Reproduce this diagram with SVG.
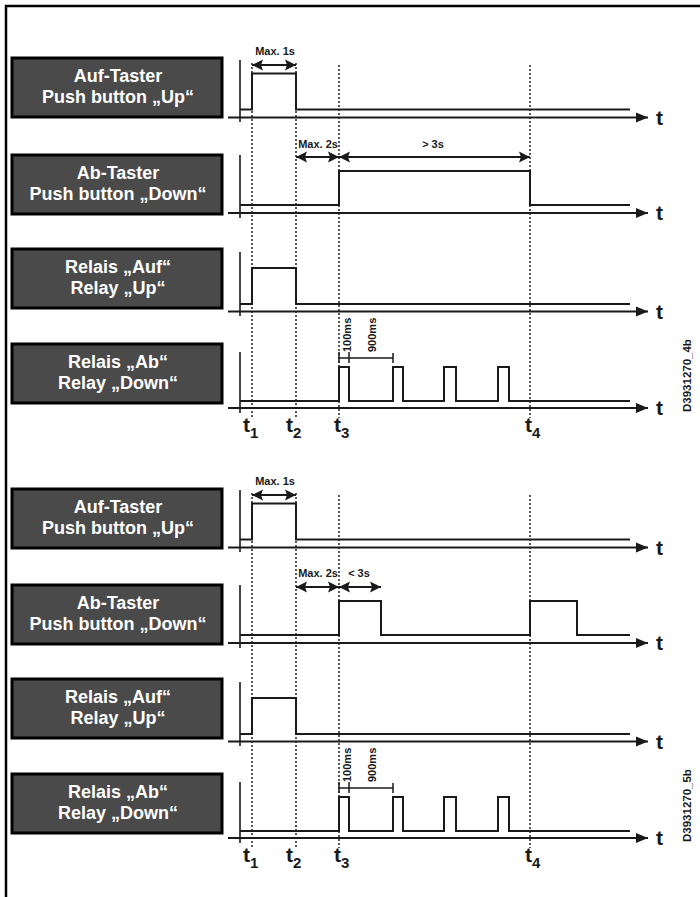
<svg xmlns="http://www.w3.org/2000/svg" width="700" height="897" viewBox="0 0 700 897">
<style>
.box{fill:#4a4a4a;stroke:#000;stroke-width:3}
.bt{font-family:"Liberation Sans",Arial,sans-serif;font-weight:bold;font-size:18px;fill:#fff;text-anchor:middle}
.sm{font-family:"Liberation Sans",Arial,sans-serif;font-weight:bold;font-size:11px;fill:#1a1a1a}
.tt{font-family:"Liberation Sans",Arial,sans-serif;font-weight:bold;font-size:21px;fill:#1a1a1a}
.ts{font-family:"Liberation Sans",Arial,sans-serif;font-weight:bold;font-size:15px;fill:#1a1a1a}
.ax{fill:none;stroke:#1a1a1a;stroke-width:2}
.va{fill:none;stroke:#1a1a1a;stroke-width:1.6}
.sig{fill:none;stroke:#1a1a1a;stroke-width:2}
.dot{fill:none;stroke:#222;stroke-width:1.5;stroke-dasharray:2,2}
.dim{fill:none;stroke:#1a1a1a;stroke-width:2}
.br{fill:none;stroke:#1a1a1a;stroke-width:1.5}
</style>
<defs>
<marker id="ah" markerUnits="userSpaceOnUse" markerWidth="14" markerHeight="12" refX="12" refY="5" orient="auto-start-reverse" viewBox="0 0 14 10">
<path d="M0,0 L12,5 L0,10 z" fill="#1a1a1a"/>
</marker>
<marker id="dh" markerUnits="userSpaceOnUse" markerWidth="12" markerHeight="12" refX="11" refY="5.5" orient="auto-start-reverse" viewBox="0 0 12 11">
<path d="M0,0 L11,5.5 L0,11 L2,5.5 z" fill="#1a1a1a"/>
</marker>
</defs>
<rect width="700" height="897" fill="#fff"/>
<path d="M6,897 V6 H700" fill="none" stroke="#000" stroke-width="2.5"/>

<!-- ===== Top diagram ===== -->
<g id="top">
<g id="n1"><rect class="box" x="12" y="58" width="210" height="59"/><text class="bt" x="118" y="82">Auf-Taster</text><text class="bt" x="118" y="103">Push button „Up“</text></g>
<g id="n2"><rect class="box" x="12" y="155" width="210" height="59"/><text class="bt" x="118" y="179">Ab-Taster</text><text class="bt" x="118" y="200">Push button „Down“</text></g>
<g id="n3"><rect class="box" x="12" y="249" width="210" height="59"/><text class="bt" x="118" y="273">Relais „Auf“</text><text class="bt" x="118" y="294">Relay „Up“</text></g>
<g id="n4"><rect class="box" x="12" y="344" width="210" height="59"/><text class="bt" x="118" y="368">Relais „Ab“</text><text class="bt" x="118" y="389">Relay „Down“</text></g>
<g id="connectors-top">
<path class="dot" d="M252,63 V418 M296,63 V418 M339,65 V418 M530,65 V418"/>
<path class="va" d="M240,60 V122 M240,155 V218 M240,252 V316 M240,352 V413"/>
<path class="ax" marker-end="url(#ah)" d="M228,117.5 H648"/>
<path class="ax" marker-end="url(#ah)" d="M228,213 H648"/>
<path class="ax" marker-end="url(#ah)" d="M228,311.5 H648"/>
<path class="ax" marker-end="url(#ah)" d="M228,408 H648"/>
<path class="sig" d="M240,109.5 H252 V73.5 H296 V109.5 H630"/>
<path class="sig" d="M240,205 H339 V171 H530 V205 H630"/>
<path class="sig" d="M240,304 H252 V268 H296 V304 H630"/>
<path class="sig" d="M240,401 H339 V367 H349 V401 H393 V367 H403 V401 H444 V367 H456 V401 H498 V367 H509 V401 H630"/>
<path class="dim" marker-start="url(#dh)" marker-end="url(#dh)" d="M252,65 H296"/>
<path class="dim" marker-start="url(#dh)" marker-end="url(#dh)" d="M296,157 H339"/>
<path class="dim" marker-start="url(#dh)" marker-end="url(#dh)" d="M339,157 H530"/>
<path class="br" d="M339,358 H393 M339,352 V363 M349,352 V363 M393,353 V363"/>
</g>
<text class="sm" x="275" y="55" text-anchor="middle">Max. 1s</text>
<text class="sm" x="318" y="148" text-anchor="middle">Max. 2s</text>
<text class="sm" x="433" y="148" text-anchor="middle">&gt; 3s</text>
<text class="sm" transform="translate(351,352) rotate(-90)">100ms</text>
<text class="sm" transform="translate(376,352) rotate(-90)">900ms</text>
<text class="tt" x="656" y="125">t</text>
<text class="tt" x="656" y="220">t</text>
<text class="tt" x="656" y="319">t</text>
<text class="tt" x="656" y="415">t</text>
<text class="tt" x="243" y="432">t<tspan class="ts" dy="6">1</tspan></text>
<text class="tt" x="286" y="432">t<tspan class="ts" dy="6">2</tspan></text>
<text class="tt" x="334" y="432">t<tspan class="ts" dy="6">3</tspan></text>
<text class="tt" x="525" y="432">t<tspan class="ts" dy="6">4</tspan></text>
<text class="sm" style="font-size:11.5px" transform="translate(691,412) rotate(-90)">D3931270_4b</text>
</g>

<!-- ===== Bottom diagram ===== -->
<g id="bottom" transform="translate(0,430)">
<g id="m1"><rect class="box" x="12" y="59" width="210" height="59"/><text class="bt" x="118" y="83">Auf-Taster</text><text class="bt" x="118" y="104">Push button „Up“</text></g>
<g id="m2"><rect class="box" x="12" y="155" width="210" height="59"/><text class="bt" x="118" y="179">Ab-Taster</text><text class="bt" x="118" y="200">Push button „Down“</text></g>
<g id="m3"><rect class="box" x="12" y="249" width="210" height="59"/><text class="bt" x="118" y="273">Relais „Auf“</text><text class="bt" x="118" y="294">Relay „Up“</text></g>
<g id="m4"><rect class="box" x="12" y="344" width="210" height="59"/><text class="bt" x="118" y="368">Relais „Ab“</text><text class="bt" x="118" y="389">Relay „Down“</text></g>
<g id="connectors-bottom">
<path class="dot" d="M252,63 V418 M296,63 V418 M339,65 V418 M530,65 V418"/>
<path class="va" d="M240,60 V122 M240,155 V218 M240,252 V316 M240,352 V413"/>
<path class="ax" marker-end="url(#ah)" d="M228,117.5 H648"/>
<path class="ax" marker-end="url(#ah)" d="M228,213 H648"/>
<path class="ax" marker-end="url(#ah)" d="M228,311.5 H648"/>
<path class="ax" marker-end="url(#ah)" d="M228,408 H648"/>
<path class="sig" d="M240,109.5 H252 V73.5 H296 V109.5 H630"/>
<path class="sig" d="M240,205 H339 V171 H381 V205 H530 V171 H577 V205 H630"/>
<path class="sig" d="M240,304 H252 V268 H296 V304 H630"/>
<path class="sig" d="M240,401 H339 V367 H349 V401 H393 V367 H403 V401 H444 V367 H456 V401 H498 V367 H509 V401 H630"/>
<path class="dim" marker-start="url(#dh)" marker-end="url(#dh)" d="M252,65 H296"/>
<path class="dim" marker-start="url(#dh)" marker-end="url(#dh)" d="M296,157 H339"/>
<path class="dim" marker-start="url(#dh)" marker-end="url(#dh)" d="M339,157 H381"/>
<path class="br" d="M339,358 H393 M339,352 V363 M349,352 V363 M393,353 V363"/>
</g>
<text class="sm" x="275" y="55" text-anchor="middle">Max. 1s</text>
<text class="sm" x="318" y="147" text-anchor="middle">Max. 2s</text>
<text class="sm" x="359" y="147" text-anchor="middle">&lt; 3s</text>
<text class="sm" transform="translate(351,352) rotate(-90)">100ms</text>
<text class="sm" transform="translate(376,352) rotate(-90)">900ms</text>
<text class="tt" x="656" y="125">t</text>
<text class="tt" x="656" y="220">t</text>
<text class="tt" x="656" y="319">t</text>
<text class="tt" x="656" y="415">t</text>
<text class="tt" x="243" y="432">t<tspan class="ts" dy="6">1</tspan></text>
<text class="tt" x="286" y="432">t<tspan class="ts" dy="6">2</tspan></text>
<text class="tt" x="334" y="432">t<tspan class="ts" dy="6">3</tspan></text>
<text class="tt" x="525" y="432">t<tspan class="ts" dy="6">4</tspan></text>
<text class="sm" style="font-size:11.5px" transform="translate(691,412) rotate(-90)">D3931270_5b</text>
</g>
</svg>
